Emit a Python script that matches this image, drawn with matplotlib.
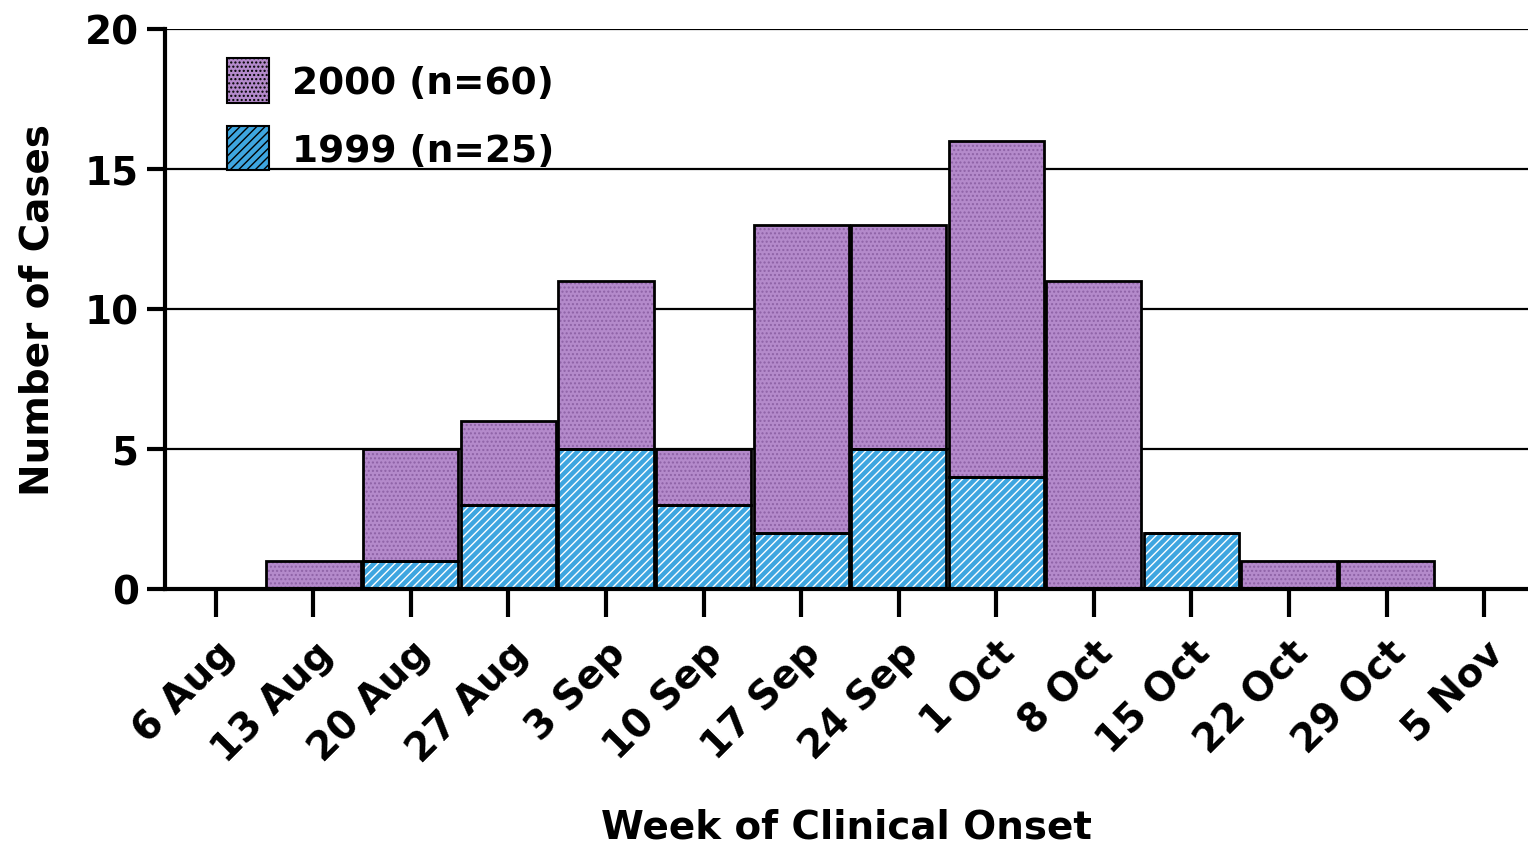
import matplotlib.pyplot as plt
import matplotlib.patches as mpatches

plt.rcParams['font.family'] = ['DejaVu Sans']
plt.rcParams['font.weight'] = 'bold'
plt.rcParams['hatch.linewidth'] = 1.0

weeks = ['6 Aug', '13 Aug', '20 Aug', '27 Aug', '3 Sep', '10 Sep', '17 Sep',
         '24 Sep', '1 Oct', '8 Oct', '15 Oct', '22 Oct', '29 Oct', '5 Nov']
cases_1999 = [0, 0, 1, 3, 5, 3, 2, 5, 4, 0, 2, 0, 0, 0]
cases_2000 = [0, 1, 4, 3, 6, 2, 11, 8, 12, 11, 0, 1, 1, 0]
labels = ['2000 (n=60)', '1999 (n=25)']

purple = '#b48acb'
purple_h = '#8e62a6'
blue = '#3ea6e0'

fig = plt.figure(figsize=(15.28, 8.45), dpi=100)
ax = fig.add_axes([0.108, 0.302, 0.892, 0.6625])

x = range(len(weeks))
w = 0.975

# 1999 (bottom), white diagonal stripes
ax.bar(x, cases_1999, width=w, color=blue, edgecolor='white', hatch='////', lw=0, zorder=2)
ax.bar(x, cases_1999, width=w, fill=False, edgecolor='black', lw=2, zorder=3)
# 2000 stacked on top
ax.bar(x, cases_2000, width=w, bottom=cases_1999, color=purple, edgecolor=purple_h,
       hatch='....', lw=0, zorder=2)
ax.bar(x, cases_2000, width=w, bottom=cases_1999, fill=False, edgecolor='black', lw=2, zorder=3)

ax.set_xlim(-0.52, 13.45)
ax.set_ylim(0, 20)
ax.set_yticks([0, 5, 10, 15, 20])
ax.set_xticks(list(x))
ax.set_xticklabels(weeks, rotation=45, ha='right', rotation_mode='anchor')
ax.tick_params(axis='x', length=20, width=3, labelsize=28, pad=12)
ax.tick_params(axis='y', length=13, width=3, labelsize=28, pad=6)

for yv in [5, 10, 15, 20]:
    ax.axhline(yv, color='black', lw=1.6, zorder=1)

ax.spines['top'].set_visible(False)
ax.spines['right'].set_visible(False)
ax.spines['left'].set_linewidth(3)
ax.spines['bottom'].set_linewidth(3)
ax.spines['bottom'].set_zorder(4)

ax.set_ylabel('Number of Cases', fontsize=28, fontweight='bold', labelpad=20)
ax.set_xlabel('Week of Clinical Onset', fontsize=28, fontweight='bold', labelpad=28)

handles = [mpatches.Patch(facecolor=purple, edgecolor='black', hatch='....', lw=1.5),
           mpatches.Patch(facecolor=blue, edgecolor='black', hatch='////', lw=1.5)]
ax.legend(handles, labels, loc='upper left', bbox_to_anchor=(0.0455, 0.948), frameon=False,
          fontsize=27, handlelength=1.12, handleheight=1.45, handletextpad=0.62,
          labelspacing=0.62, borderaxespad=0, borderpad=0)

fig.savefig('out.png', dpi=100, facecolor='white')
